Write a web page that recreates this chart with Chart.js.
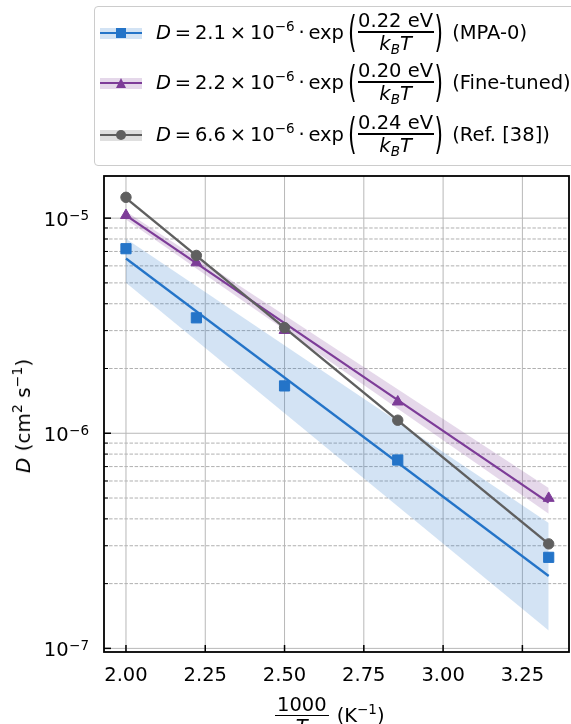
<!DOCTYPE html>
<html><head><meta charset="utf-8">
<script src="https://cdn.jsdelivr.net/npm/chart.js@4.4.1/dist/chart.umd.min.js"></script>
<style>
html,body{margin:0;padding:0;background:#fff;overflow:hidden;}
#wrap{position:relative;width:571px;height:724px;overflow:hidden;font-family:'DejaVu Sans',sans-serif;color:#000;}
#c{position:absolute;left:0;top:0;}
#legend{position:absolute;left:94px;top:6px;width:520px;height:158px;border:1px solid #cccccc;border-radius:4px;background:rgba(255,255,255,0.8);}
.band{position:absolute;left:100px;width:42px;height:11px;}
.sline{position:absolute;left:100px;width:42px;height:2.2px;}
.row{position:absolute;left:156px;height:50px;display:flex;align-items:center;white-space:nowrap;font-size:19.5px;}
.t1{line-height:22px;word-spacing:-2.4px;}
.t1 sup{font-size:13.5px;vertical-align:0;position:relative;top:-8px;}
.lp,.rp{display:inline-block;font-size:22px;line-height:22px;transform:scale(1,1.95);}
.lp{margin:0 1px 0 4px;}
.rp{margin:0 0 0 1px;}
.frac{display:inline-flex;flex-direction:column;align-items:center;}
.frac .num,.frac .den{display:block;line-height:19px;padding:0 0.5px;}
.frac .bar{width:100%;height:1.3px;background:#000;margin:1px 0 1px 0;}
.den sub{font-size:13.5px;vertical-align:0;position:relative;top:4px;font-style:italic;}
.lab{margin-left:9px;line-height:22px;}
#ylab{position:absolute;left:23px;top:416px;transform:translate(-50%,-50%) rotate(-90deg);white-space:nowrap;font-size:20px;}
#ylab sup{font-size:14px;vertical-align:0;position:relative;top:-8px;}
#xlab{position:absolute;left:275px;top:695px;display:flex;align-items:center;white-space:nowrap;font-size:19.5px;}
#xlab .frac .num,#xlab .frac .den{padding:0 2px;}
#xlab .k sup{font-size:13.5px;vertical-align:0;position:relative;top:-8px;}
</style>
</head><body>
<div id="wrap">
<canvas id="c" width="571" height="724"></canvas>
<div id="legend"></div>
<div class="band" style="top:27.5px;background:rgba(36,116,200,0.2)"></div>
<div class="sline" style="top:31.9px;background:#2474c8"></div>
<div style="position:absolute;left:116px;top:28px;width:10px;height:10px;background:#2474c8"></div>
<div class="row" style="top:8px"><span class="t1"><i>D</i> = 2.1 × 10<sup>−6</sup> · exp</span><span class="lp">(</span><span class="frac"><span class="num">0.22 eV</span><span class="bar"></span><span class="den"><i>k</i><sub>B</sub><i>T</i></span></span><span class="rp">)</span><span class="lab">(MPA-0)</span></div>

<div class="band" style="top:77.5px;background:rgba(125,60,152,0.2)"></div>
<div class="sline" style="top:81.9px;background:#7d3c98"></div>
<div style="position:absolute;left:116px;top:78px;width:0;height:0;border-left:5.5px solid transparent;border-right:5.5px solid transparent;border-bottom:10px solid #7d3c98"></div>
<div class="row" style="top:58px"><span class="t1"><i>D</i> = 2.2 × 10<sup>−6</sup> · exp</span><span class="lp">(</span><span class="frac"><span class="num">0.20 eV</span><span class="bar"></span><span class="den"><i>k</i><sub>B</sub><i>T</i></span></span><span class="rp">)</span><span class="lab">(Fine-tuned)</span></div>

<div class="band" style="top:129.5px;background:rgba(95,95,95,0.2)"></div>
<div class="sline" style="top:133.9px;background:#5f5f5f"></div>
<div style="position:absolute;left:116px;top:130px;width:10px;height:10px;border-radius:50%;background:#5f5f5f"></div>
<div class="row" style="top:110px"><span class="t1"><i>D</i> = 6.6 × 10<sup>−6</sup> · exp</span><span class="lp">(</span><span class="frac"><span class="num">0.24 eV</span><span class="bar"></span><span class="den"><i>k</i><sub>B</sub><i>T</i></span></span><span class="rp">)</span><span class="lab">(Ref. [38])</span></div>

<div id="ylab"><i>D</i> (cm<sup>2</sup> s<sup>−1</sup>)</div>
<div id="xlab"><span class="frac"><span class="num">1000</span><span class="bar"></span><span class="den"><i>T</i></span></span><span class="k" style="margin-left:8px">(K<sup>−1</sup>)</span></div>
</div>
<script>
// ---- data (1000/T in K^-1, D in cm^2 s^-1) ----
const invT = [2.000, 2.222, 2.500, 2.857, 3.333];
const mpaD = [7.21e-6, 3.44e-6, 1.66e-6, 7.51e-7, 2.65e-7];
const ftD  = [1.03e-5, 6.21e-6, 3.01e-6, 1.40e-6, 4.99e-7];
const refD = [1.25e-5, 6.71e-6, 3.10e-6, 1.15e-6, 3.06e-7];
// fitted Arrhenius lines and bands, read at the ends of the range
const fitX = [2.000, 3.333];
const mpaFit = [6.49e-6, 2.17e-7];
const mpaUpper = [8.02e-6, 3.83e-7];
const mpaLower = [5.01e-6, 1.21e-7];
const ftFit = [1.03e-5, 4.76e-7];
const ftUpper = [1.074e-5, 5.57e-7];
const ftLower = [9.86e-6, 4.22e-7];
const refFit = [1.24e-5, 3.06e-7];
const refUpper = [1.26e-5, 3.11e-7];
const refLower = [1.22e-5, 3.01e-7];
// ticks
const xTicks = [2.00, 2.25, 2.50, 2.75, 3.00, 3.25];
const xTickLabels = ['2.00', '2.25', '2.50', '2.75', '3.00', '3.25'];
const yMajor = [1e-7, 1e-6, 1e-5];
const yExp = ['\u22127', '\u22126', '\u22125'];
const yMinor = [];
[-8, -7, -6, -5].forEach(e => { for (let k = 2; k <= 9; k++) yMinor.push(k * Math.pow(10, e)); });
const xRange = [1.9307, 3.397];
const yRange = [9.62e-8, 1.57e-5];

const BLUE = '#2474c8', PURPLE = '#7d3c98', GRAY = '#5f5f5f';
const pts = (xs, ys) => xs.map((x, i) => ({x, y: ys[i]}));

function bandSets(up, lo, col, ord) {
  return [
    {data: pts(fitX, up), borderWidth: 0, pointRadius: 0, fill: '+1', backgroundColor: col, order: ord},
    {data: pts(fitX, lo), borderWidth: 0, pointRadius: 0, fill: false, backgroundColor: col, order: ord}
  ];
}
function lineSet(ys, col, ord) {
  return {data: pts(fitX, ys), borderColor: col, borderWidth: 2.3, pointRadius: 0, fill: false, order: ord};
}
function markSet(ys, col, style, r, ord) {
  return {data: pts(invT, ys), showLine: false, pointStyle: style, pointRadius: r,
          backgroundColor: col, borderColor: col, borderWidth: 1, order: ord};
}

const framePlugin = {
  id: 'frame',
  beforeDatasetsDraw(chart) {
    const {ctx, chartArea: a, scales: {x, y}} = chart;
    ctx.save();
    ctx.beginPath(); ctx.rect(a.left, a.top, a.right - a.left, a.bottom - a.top); ctx.clip();
    ctx.strokeStyle = '#b0b0b0'; ctx.lineWidth = 1;
    ctx.setLineDash([3.5, 1.6]);
    yMinor.forEach(v => {
      const p = y.getPixelForValue(v);
      if (p < a.top || p > a.bottom) return;
      ctx.beginPath(); ctx.moveTo(a.left, p); ctx.lineTo(a.right, p); ctx.stroke();
    });
    ctx.setLineDash([]);
    ctx.strokeStyle = '#b8b8b8';
    yMajor.forEach(v => {
      const p = y.getPixelForValue(v);
      ctx.beginPath(); ctx.moveTo(a.left, p); ctx.lineTo(a.right, p); ctx.stroke();
    });
    xTicks.forEach(v => {
      const p = x.getPixelForValue(v);
      ctx.beginPath(); ctx.moveTo(p, a.top); ctx.lineTo(p, a.bottom); ctx.stroke();
    });
    ctx.restore();
  },
  afterDatasetsDraw(chart) {
    const {ctx, chartArea: a, scales: {x, y}} = chart;
    ctx.save();
    ctx.strokeStyle = '#000';
    ctx.lineWidth = 1.5;
    xTicks.forEach(v => {
      const p = x.getPixelForValue(v);
      ctx.beginPath(); ctx.moveTo(p, a.bottom); ctx.lineTo(p, a.bottom - 7); ctx.stroke();
    });
    yMajor.forEach(v => {
      const p = y.getPixelForValue(v);
      ctx.beginPath(); ctx.moveTo(a.left, p); ctx.lineTo(a.left + 7, p); ctx.stroke();
    });
    ctx.lineWidth = 1;
    yMinor.forEach(v => {
      const p = y.getPixelForValue(v);
      if (p < a.top || p > a.bottom) return;
      ctx.beginPath(); ctx.moveTo(a.left, p); ctx.lineTo(a.left + 4, p); ctx.stroke();
    });
    ctx.lineWidth = 1.8;
    ctx.strokeRect(a.left, a.top, a.right - a.left, a.bottom - a.top);
    ctx.fillStyle = '#000'; ctx.textBaseline = 'alphabetic';
    ctx.font = '19.5px "DejaVu Sans"'; ctx.textAlign = 'center';
    xTicks.forEach((v, i) => ctx.fillText(xTickLabels[i], x.getPixelForValue(v), 680.5));
    ctx.textAlign = 'left';
    yMajor.forEach((v, i) => {
      const p = y.getPixelForValue(v);
      ctx.font = '13.5px "DejaVu Sans"';
      const we = ctx.measureText(yExp[i]).width;
      ctx.font = '19.5px "DejaVu Sans"';
      const wb = ctx.measureText('10').width;
      const right = 89;
      ctx.fillText('10', right - we - wb - 0.5, p + 8);
      ctx.font = '13.5px "DejaVu Sans"';
      ctx.fillText(yExp[i], right - we, p + 1.5);
    });
    ctx.restore();
  }
};

new Chart(document.getElementById('c'), {
  type: 'line',
  data: {
    datasets: [
      ...bandSets(mpaUpper, mpaLower, 'rgba(36,116,200,0.2)', 20),
      ...bandSets(ftUpper, ftLower, 'rgba(125,60,152,0.2)', 19),
      ...bandSets(refUpper, refLower, 'rgba(95,95,95,0.2)', 18),
      lineSet(mpaFit, BLUE, 16),
      markSet(mpaD, BLUE, 'rect', 7.2, 15),
      lineSet(ftFit, PURPLE, 14),
      markSet(ftD, PURPLE, 'triangle', 6.3, 13),
      lineSet(refFit, GRAY, 12),
      markSet(refD, GRAY, 'circle', 5.2, 11)
    ]
  },
  options: {
    responsive: false,
    animation: false,
    events: [],
    layout: {autoPadding: false, padding: {left: 104, top: 176, right: 2, bottom: 72}},
    plugins: {legend: {display: false}, tooltip: {enabled: false}},
    elements: {line: {tension: 0}},
    scales: {
      x: {type: 'linear', min: xRange[0], max: xRange[1], bounds: 'data', display: false},
      y: {type: 'logarithmic', min: yRange[0], max: yRange[1], bounds: 'data', display: false}
    }
  },
  plugins: [framePlugin]
});
</script>
</body></html>
